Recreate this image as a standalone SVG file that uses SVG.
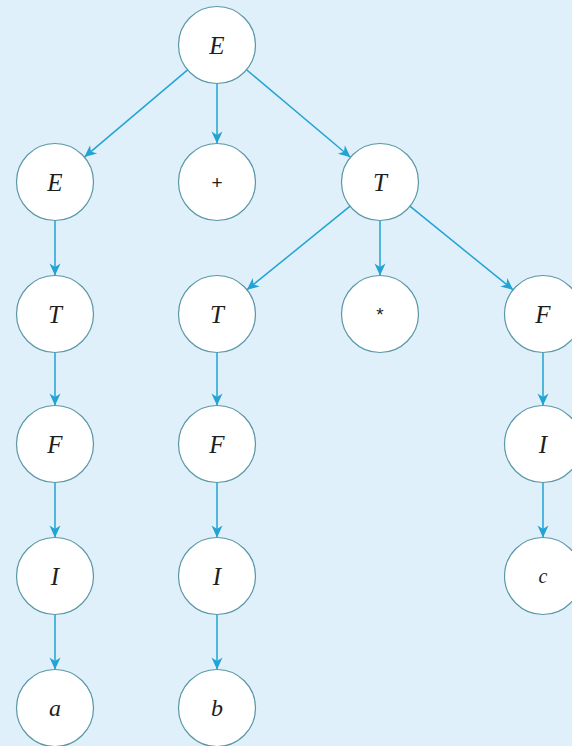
<svg xmlns="http://www.w3.org/2000/svg" width="572" height="746" viewBox="0 0 572 746">
<defs>
<style>
.n{fill:#ffffff;stroke:#5a97a6;stroke-width:1.2}
.l{font-family:"Liberation Serif",serif;font-style:italic;font-size:25px;fill:#1e1e1e;text-anchor:middle}
.s{font-family:"Liberation Sans",sans-serif;font-size:19px;fill:#1e1e1e;text-anchor:middle}
.e{stroke:#22a3d3;stroke-width:1.5;fill:none;marker-end:url(#ah)}
</style>
<marker id="ah" markerUnits="userSpaceOnUse" markerWidth="16" markerHeight="14" viewBox="-13 -7 15 14" refX="0" refY="0" orient="auto">
<path d="M0,0 L-12,-5.5 L-8.5,0 L-12,5.5 Z" fill="#22a3d3"/>
</marker>
</defs>
<rect width="572" height="746" fill="#dff0fa"/>
<g id="connectors">
<line class="e" x1="187.6" y1="69.9" x2="84.4" y2="157.1"/>
<line class="e" x1="217" y1="83.5" x2="217" y2="143.5"/>
<line class="e" x1="246.5" y1="69.8" x2="350.5" y2="157.2"/>
<line class="e" x1="350.1" y1="206.2" x2="246.9" y2="289.8"/>
<line class="e" x1="380" y1="220.5" x2="380" y2="275.5"/>
<line class="e" x1="409.9" y1="206.2" x2="513.1" y2="289.8"/>
<line class="e" x1="55" y1="220.5" x2="55" y2="275.5"/>
<line class="e" x1="55" y1="352.5" x2="55" y2="405.5"/>
<line class="e" x1="55" y1="482.5" x2="55" y2="537.5"/>
<line class="e" x1="55" y1="614.5" x2="55" y2="669.5"/>
<line class="e" x1="217" y1="352.5" x2="217" y2="405.5"/>
<line class="e" x1="217" y1="482.5" x2="217" y2="537.5"/>
<line class="e" x1="217" y1="614.5" x2="217" y2="669.5"/>
<line class="e" x1="543" y1="352.5" x2="543" y2="405.5"/>
<line class="e" x1="543" y1="482.5" x2="543" y2="537.5"/>
</g>
<g id="n1"><circle class="n" cx="217" cy="45" r="38.5"/><text class="l" x="217" y="54">E</text></g>
<g id="n2"><circle class="n" cx="55" cy="182" r="38.5"/><text class="l" x="55" y="191">E</text></g>
<g id="n3"><circle class="n" cx="217" cy="182" r="38.5"/><text class="s" x="217" y="189">+</text></g>
<g id="n4"><circle class="n" cx="380" cy="182" r="38.5"/><text class="l" x="380" y="191">T</text></g>
<g id="n5"><circle class="n" cx="55" cy="314" r="38.5"/><text class="l" x="55" y="323">T</text></g>
<g id="n6"><circle class="n" cx="217" cy="314" r="38.5"/><text class="l" x="217" y="323">T</text></g>
<g id="n7"><circle class="n" cx="380" cy="314" r="38.5"/><text class="s" x="380" y="321">*</text></g>
<g id="n8"><circle class="n" cx="543" cy="314" r="38.5"/><text class="l" x="543" y="323">F</text></g>
<g id="n9"><circle class="n" cx="55" cy="444" r="38.5"/><text class="l" x="55" y="453">F</text></g>
<g id="n10"><circle class="n" cx="217" cy="444" r="38.5"/><text class="l" x="217" y="453">F</text></g>
<g id="n11"><circle class="n" cx="543" cy="444" r="38.5"/><text class="l" x="543" y="453">I</text></g>
<g id="n12"><circle class="n" cx="55" cy="576" r="38.5"/><text class="l" x="55" y="585">I</text></g>
<g id="n13"><circle class="n" cx="217" cy="576" r="38.5"/><text class="l" x="217" y="585">I</text></g>
<g id="n14"><circle class="n" cx="543" cy="576" r="38.5"/><text class="l" x="543" y="583" style="font-size:20px">c</text></g>
<g id="n15"><circle class="n" cx="55" cy="708" r="38.5"/><text class="l" x="55" y="716" style="font-size:24px">a</text></g>
<g id="n16"><circle class="n" cx="217" cy="708" r="38.5"/><text class="l" x="217" y="716" style="font-size:24px">b</text></g>
</svg>
